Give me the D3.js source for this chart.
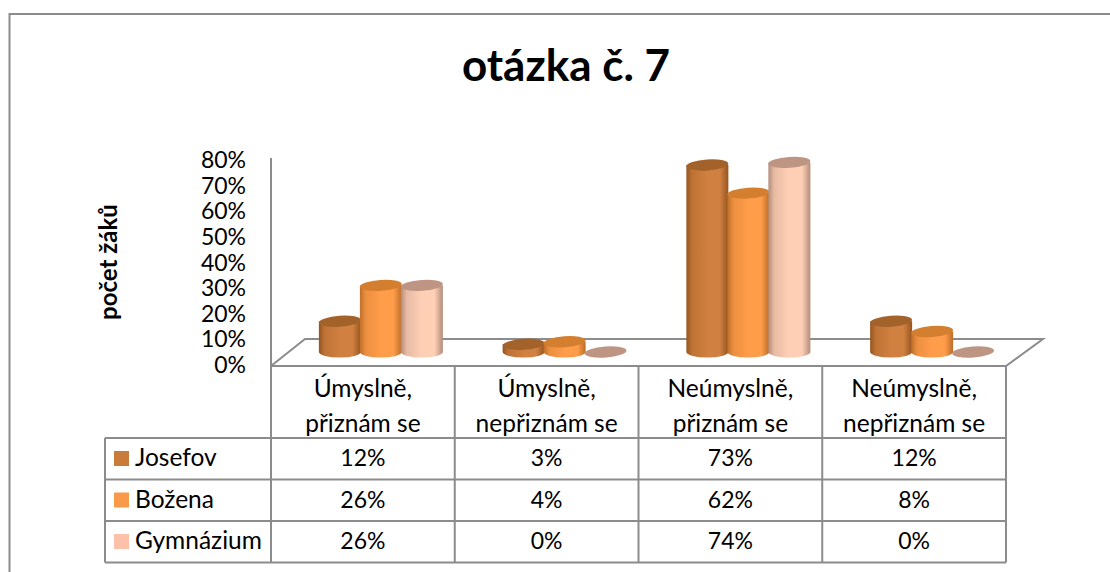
<!DOCTYPE html>
<html><head><meta charset="utf-8">
<style>html,body{margin:0;padding:0;background:#fff}svg{display:block}text{font-family:Lato,"Noto Sans",sans-serif;fill:#000}</style>
<script src="https://cdn.jsdelivr.net/npm/d3@7"></script></head>
<body><svg id="c" width="1110" height="572"></svg>
<script>
const title = "otázka č. 7";
const yTitle = "počet žáků";
const categories = [["Úmyslně,","přiznám se"],["Úmyslně,","nepřiznám se"],["Neúmyslně,","přiznám se"],["Neúmyslně,","nepřiznám se"]];
const seriesNames = ["Josefov","Božena","Gymnázium"];
const josefov = [12,3,73,12];
const bozena = [26,4,62,8];
const gymnazium = [26,0,74,0];
const yTicks = [0,10,20,30,40,50,60,70,80];
const sideMid = ["#d08040","#ff9d4a","#ffcfb5"];
const sideEdge = ["#96551f","#bd6e28","#b28d7b"];
const topCol = ["#a2622a","#d47f30","#bd9582"];
const legendCol = ["#c97c3a","#f9994a","#fcc1a8"];

const seriesValues = [josefov,bozena,gymnazium];
const svg = d3.select("#c");
const gray = "#8c8c8c";
const W = {l:271,r:1006,top:366,dx:37,dy:27};

// frame (no right edge is visible in the picture)
svg.append("path").attr("d","M9.5,572V14H1110").attr("fill","none").attr("stroke",gray).attr("stroke-width",2);

svg.append("text").attr("x",566).attr("y",81).attr("text-anchor","middle").attr("font-size",44).attr("font-weight",700).text(title);

const x = d3.scaleBand().domain(d3.range(categories.length)).range([W.l,W.r]);
const y = d3.scaleLinear().domain([0,80]).range([365,160]);
const base = d3.scaleLinear().domain([0,80]).range([352,147]);
const inner = d3.scaleBand().domain(d3.range(seriesNames.length)).range([-61.5,61.5]);

// y labels
svg.selectAll(".yt").data(yTicks).join("text").attr("class","yt")
 .attr("x",246).attr("y",d=>y(d)+8).attr("text-anchor","end").attr("font-size",23).text(d=>d+"%");
svg.append("text").attr("transform","translate(117,262) rotate(-90)").attr("text-anchor","middle")
 .attr("font-size",24).attr("font-weight",700).text(yTitle);

// floor and wall
const line = (d,w=2)=>svg.append("path").attr("d",d).attr("fill","none").attr("stroke",gray).attr("stroke-width",w);
line(`M${W.l},158V${W.top}H${W.r}L${W.r+W.dx},${W.top-W.dy}H${W.l+34}L${W.l},${W.top}`);

// gradients
const defs = svg.append("defs");
seriesNames.forEach((s,i)=>{
 const g = defs.append("linearGradient").attr("id","g"+i);
 [[0,sideEdge[i]],[.14,d3.interpolateRgb(sideEdge[i],sideMid[i])(.7)],[.5,sideMid[i]],[.8,sideMid[i]],[1,sideEdge[i]]]
  .forEach(([o,c])=>g.append("stop").attr("offset",o).attr("stop-color",c));
});

// cylinders
const rx=21, ry=5.5;
categories.forEach((c,ci)=>{
 const cx0 = x(ci)+x.bandwidth()/2+18;
 seriesValues.forEach((vals,si)=>{
  const v = vals[ci];
  const cx = cx0+inner(si)+inner.bandwidth()/2;
  const yb = base(0), yt = base(v);
  if(v>0){
   svg.append("path").attr("fill",`url(#g${si})`)
    .attr("d",`M${cx-rx},${yt}V${yb}A${rx},${ry} 0 0 0 ${cx+rx},${yb}V${yt}Z`);
  }
  svg.append("ellipse").attr("cx",cx).attr("cy",yt).attr("rx",rx).attr("ry",ry)
    .attr("transform",`rotate(-4 ${cx} ${yt})`).attr("fill",topCol[si]);
 });
});

// table
const rowY = [438,479.5,521,562.5];
const tblL = 105;
const bounds = x.domain().map(d=>x(d)).concat([W.r]);
bounds.forEach(b=>line(`M${b},${W.top}V${rowY[3]}`));
rowY.forEach(r=>line(`M${tblL},${r}H${W.r}`));
line(`M${tblL},${rowY[0]}V${rowY[3]}`);

categories.forEach((c,ci)=>{
 const cx=x(ci)+x.bandwidth()/2;
 c.forEach((t,k)=>svg.append("text").attr("x",cx).attr("y",397+k*34.5).attr("text-anchor","middle").attr("font-size",24.5).text(t));
 seriesValues.forEach((vals,si)=>svg.append("text").attr("x",cx).attr("y",rowY[si]+28).attr("text-anchor","middle").attr("font-size",23).text(vals[ci]+"%"));
});
seriesNames.forEach((s,si)=>{
 svg.append("rect").attr("x",114).attr("y",rowY[si]+13).attr("width",15).attr("height",15).attr("fill",legendCol[si]);
 svg.append("text").attr("x",135).attr("y",rowY[si]+28).attr("font-size",24.5).text(s);
});
</script></body></html>
